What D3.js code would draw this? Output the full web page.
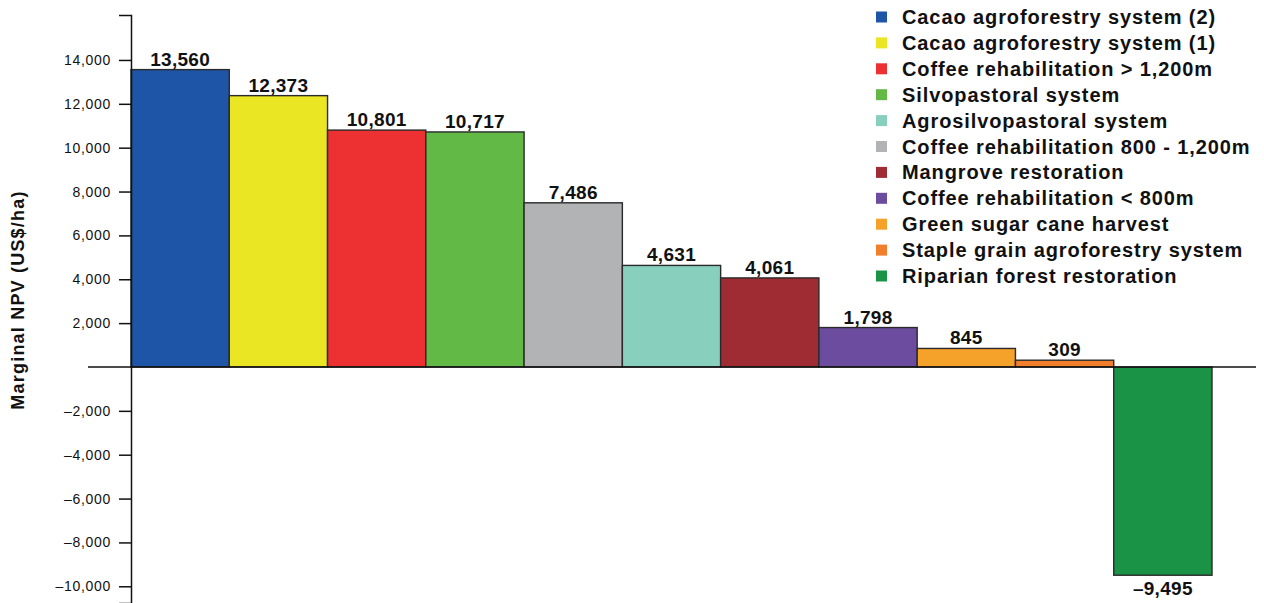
<!DOCTYPE html>
<html>
<head>
<meta charset="utf-8">
<script src="https://cdn.jsdelivr.net/npm/d3@7"></script>
<style>
  body { margin: 0; background: #fff; }
  svg { display: block; font-family: "Liberation Sans", Arial, Helvetica, sans-serif; }
</style>
</head>
<body>
<div id="chart"></div>
<script>
// bars, in the order drawn
var categories = [
  "Cacao agroforestry system (2)",
  "Cacao agroforestry system (1)",
  "Coffee rehabilitation > 1,200m",
  "Silvopastoral system",
  "Coffee rehabilitation 800 - 1,200m",
  "Agrosilvopastoral system",
  "Mangrove restoration",
  "Coffee rehabilitation < 800m",
  "Green sugar cane harvest",
  "Staple grain agroforestry system",
  "Riparian forest restoration"
];
var values = [13560, 12373, 10801, 10717, 7486, 4631, 4061, 1798, 845, 309, -9495];

// legend order
var legendItems = [
  "Cacao agroforestry system (2)",
  "Cacao agroforestry system (1)",
  "Coffee rehabilitation > 1,200m",
  "Silvopastoral system",
  "Agrosilvopastoral system",
  "Coffee rehabilitation 800 - 1,200m",
  "Mangrove restoration",
  "Coffee rehabilitation < 800m",
  "Green sugar cane harvest",
  "Staple grain agroforestry system",
  "Riparian forest restoration"
];
var colors = {
  "Cacao agroforestry system (2)": "#1f55a6",
  "Cacao agroforestry system (1)": "#ebe623",
  "Coffee rehabilitation > 1,200m": "#ed3032",
  "Silvopastoral system": "#62b946",
  "Agrosilvopastoral system": "#88d0bd",
  "Coffee rehabilitation 800 - 1,200m": "#b1b3b4",
  "Mangrove restoration": "#a02c33",
  "Coffee rehabilitation < 800m": "#6c4c9f",
  "Green sugar cane harvest": "#f5a22a",
  "Staple grain agroforestry system": "#f07e2b",
  "Riparian forest restoration": "#1a9346"
};
var tickValues = [-10000, -8000, -6000, -4000, -2000, 2000, 4000, 6000, 8000, 10000, 12000, 14000];

var w = 1264;
var h = 603;

var svg = d3.select("#chart").append("svg")
  .attr("width", w)
  .attr("height", h);

var y = d3.scaleLinear()
  .domain([-10762, 16050])
  .range([603, 15]);

var x = d3.scaleBand()
  .domain(categories)
  .range([131, 1212])
  .padding(0);

var fmt = function(v) {
  return (v < 0 ? "\u2013" : "") + d3.format(",")(Math.abs(v));
};

// bars
svg.selectAll("rect.bar")
  .data(values)
  .enter()
  .append("rect")
  .attr("class", "bar")
  .attr("x", function(d, i) { return x(categories[i]); })
  .attr("width", x.bandwidth())
  .attr("y", function(d) { return y(Math.max(0, d)); })
  .attr("height", function(d) { return Math.abs(y(d) - y(0)); })
  .attr("fill", function(d, i) { return colors[categories[i]]; })
  .attr("stroke", "#2a2a2a")
  .attr("stroke-width", 1.4);

// value labels
svg.selectAll("text.val")
  .data(values)
  .enter()
  .append("text")
  .attr("class", "val")
  .attr("x", function(d, i) { return x(categories[i]) + x.bandwidth() / 2; })
  .attr("y", function(d) { return d >= 0 ? y(d) - 4 : y(d) + 20; })
  .attr("text-anchor", "middle")
  .attr("font-size", 19)
  .attr("font-weight", "bold")
  .attr("letter-spacing", 0.3)
  .attr("fill", "#111")
  .text(fmt);

// y axis
var yAxis = d3.axisLeft(y)
  .tickValues(tickValues)
  .tickSize(12)
  .tickPadding(8)
  .tickFormat(fmt);

var ag = svg.append("g")
  .attr("transform", "translate(131,0)")
  .call(yAxis);
ag.select(".domain").attr("stroke", "#111").attr("stroke-width", 1.5);
ag.selectAll(".tick line").attr("stroke", "#111").attr("stroke-width", 1.5);
ag.selectAll(".tick text")
  .attr("font-size", 14)
  .attr("letter-spacing", 0.7)
  .attr("font-family", "\"Liberation Sans\", Arial, sans-serif")
  .attr("fill", "#111");

// zero line
svg.append("line")
  .attr("x1", 88)
  .attr("x2", 1256)
  .attr("y1", y(0))
  .attr("y2", y(0))
  .attr("stroke", "#111")
  .attr("stroke-width", 1.5);

// y title
svg.append("text")
  .attr("transform", "translate(24,300) rotate(-90)")
  .attr("text-anchor", "middle")
  .attr("font-size", 18)
  .attr("font-weight", "bold")
  .attr("letter-spacing", 1.2)
  .attr("fill", "#111")
  .text("Marginal NPV (US$/ha)");

// legend
var lg = svg.append("g");
var rows = lg.selectAll("g")
  .data(legendItems)
  .enter()
  .append("g")
  .attr("transform", function(d, i) { return "translate(876," + (17 + i * 25.9) + ")"; });
rows.append("rect")
  .attr("x", 0)
  .attr("y", -5.5)
  .attr("width", 11)
  .attr("height", 11)
  .attr("fill", function(d) { return colors[d]; });
rows.append("text")
  .attr("x", 26)
  .attr("y", 7)
  .attr("font-size", 20)
  .attr("font-weight", "bold")
  .attr("letter-spacing", 0.9)
  .attr("fill", "#111")
  .text(function(d) { return d; });
</script>
</body>
</html>
